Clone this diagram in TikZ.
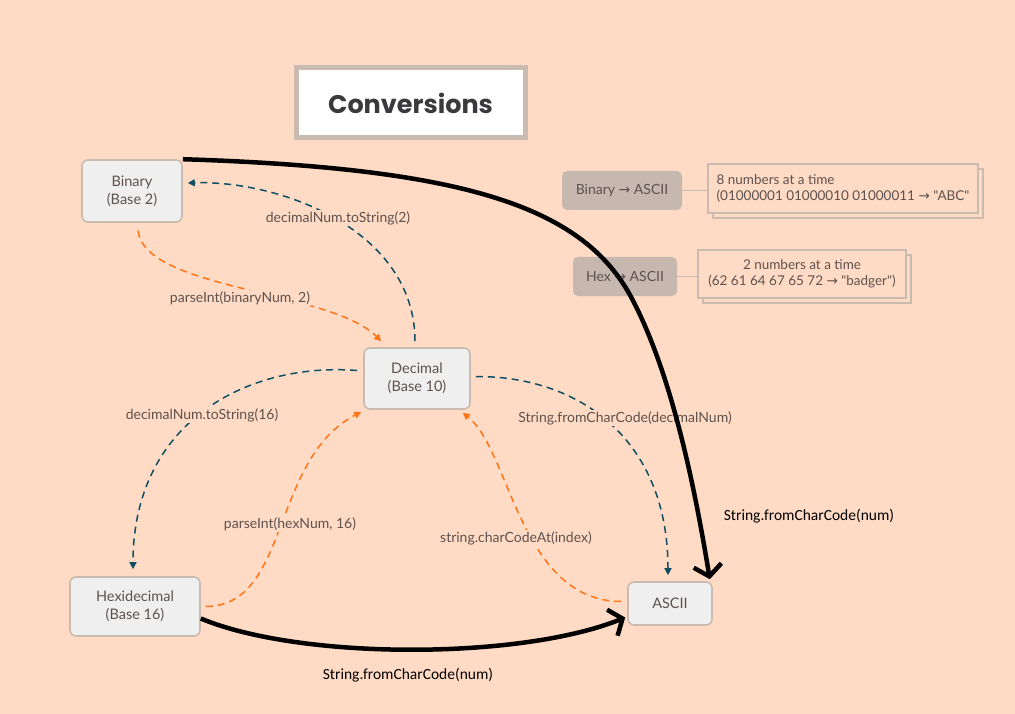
\documentclass[tikz,border=0pt]{standalone}
\usepackage{fontspec}
\setmainfont{Lato}
\newfontfamily\straightq{Lato}[Ligatures=TeXOff]
\newfontfamily\titlefont{Poppins}
\newfontfamily\notefont{Carlito}
\newfontfamily\arrowfont{DejaVu Sans}
\usetikzlibrary{arrows.meta,calc,shadows}

\definecolor{peach}{RGB}{255,218,196}
\definecolor{boxfill}{RGB}{239,239,239}
\definecolor{boxline}{RGB}{201,187,176}
\definecolor{greybox}{RGB}{198,184,174}
\definecolor{labeltext}{RGB}{94,82,78}
\definecolor{tealline}{RGB}{14,79,99}
\definecolor{orangeline}{RGB}{255,116,22}

\newcommand{\rarr}{{\arrowfont\char"2192}}

\tikzset{
  base/.style={draw=boxline, line width=1.6pt, fill=boxfill, rounded corners=6pt,
    text=labeltext, align=center, font=\fontsize{14.5}{18}\selectfont},
  greytag/.style={fill=greybox, rounded corners=5pt, text=labeltext,
    font=\fontsize{14}{16}\selectfont},
  notebox/.style={draw=boxline, line width=1.6pt, fill=peach, text=labeltext,
    font=\fontsize{13.5}{16.5}\selectfont, inner xsep=4pt,
    copy shadow={shadow xshift=5pt, shadow yshift=-5pt, draw=boxline, fill=peach}},
  tealarrow/.style={tealline, line width=1.5pt, dash pattern=on 7pt off 5pt,
    -{Triangle[length=7pt,width=7pt]}},
  orangearrow/.style={orangeline, line width=1.5pt, dash pattern=on 7pt off 5pt,
    -{Triangle[length=7pt,width=7pt]}},
  method/.style={fill=peach, text=labeltext, inner sep=1pt,
    font=\fontsize{14}{16}\selectfont},
  bigarrow/.style={black, line width=4.5pt,
    -{Straight Barb[length=11pt,width=28pt,line width=4.5pt]}},
  note/.style={font=\notefont\fontsize{15.5}{17}\selectfont}
}

\begin{document}
\begin{tikzpicture}[x=1pt,y=-1pt]
\fill[peach] (0,0) rectangle (1015,714);

% title
\node[draw=boxline, line width=5pt, fill=white, minimum width=229pt, minimum height=70pt,
  font=\titlefont\bfseries\fontsize{25.5}{28}\selectfont, text={rgb,255:red,58;green,58;blue,60}]
  (title) at (410.5,103) {Conversions};

% number bases
\node[base, minimum width=100pt, minimum height=62pt] (bin) at (132,191) {Binary\\(Base 2)};
\node[base, minimum width=106pt, minimum height=61pt] (dec) at (417,378.5) {Decimal\\(Base 10)};
\node[base, minimum width=130pt, minimum height=59pt] (hex) at (135,606.5) {Hexidecimal\\(Base 16)};
\node[base, minimum width=84pt, minimum height=43pt] (asc) at (670,603.5) {ASCII};

% side notes
\node[greytag, minimum width=120pt, minimum height=39pt] (binascii) at (622,190.5) {Binary \rarr{} ASCII};
\node[notebox, minimum width=270pt, minimum height=49pt, align=left] (binnote) at (843,188.5)
  {8 numbers at a time\\(01000001 01000010 01000011 \rarr{} {\straightq"ABC"}};
\node[greytag, minimum width=104pt, minimum height=39pt] (hexascii) at (625,276.5) {Hex \rarr{} ASCII};
\node[notebox, minimum width=208pt, minimum height=48pt, align=center] (hexnote) at (802,274)
  {2 numbers at a time\\(62 61 64 67 65 72 \rarr{} {\straightq"badger"})};
\draw[boxline, line width=1.6pt] (binascii.east) -- (binascii.east -| binnote.west);
\draw[boxline, line width=1.6pt] (hexascii.east) -- (hexascii.east -| hexnote.west);

% conversions
\draw[tealarrow] ($(dec.north)+(-2,-6)$) .. controls (415,230) and (280,180) .. ($(bin.east)+(5,-8)$);
\node[method] at (338,218) {decimalNum.toString(2)};
\draw[orangearrow] ($(bin.south)+(6,8)$) .. controls (145,290) and (330,290) .. ($(dec.north west)+(18,-6)$);
\node[method] at (240,298) {parseInt(binaryNum, 2)};
\draw[tealarrow] ($(dec.west)+(-6,-8)$) .. controls (250,362) and (133,420) .. ($(hex.north)+(-2,-7)$);
\node[method] at (202,415) {decimalNum.toString(16)};
\draw[orangearrow] ($(hex.east)+(5,0)$) .. controls (290,606) and (270,460) .. ($(dec.south west)+(-2,2)$);
\node[method] at (290,524) {parseInt(hexNum, 16)};
\draw[tealarrow] ($(dec.east)+(5,-2)$) .. controls (580,376) and (668,440) .. ($(asc.north)+(-2,-6)$);
\node[method] at (625,418) {String.fromCharCode(decimalNum)};
\draw[orangearrow] ($(asc.west)+(-6,-2)$) .. controls (520,601) and (510,450) .. ($(dec.south east)+(-8,3)$);
\node[method] at (516,538) {string.charCodeAt(index)};

% direct routes
\draw[bigarrow] (bin.north east) .. controls (460,168) and (580,205) .. (630,295)
  .. controls (668,365) and (692,470) .. ($(asc.north east)+(-3,-2)$);
\draw[bigarrow] ($(hex.east)+(0,12)$) .. controls (300,660) and (520,660) .. ($(asc.west)+(-2,14)$);
\node[note] at (809,516) {String.fromCharCode(num)};
\node[note] at (408,675) {String.fromCharCode(num)};
\end{tikzpicture}
\end{document}
